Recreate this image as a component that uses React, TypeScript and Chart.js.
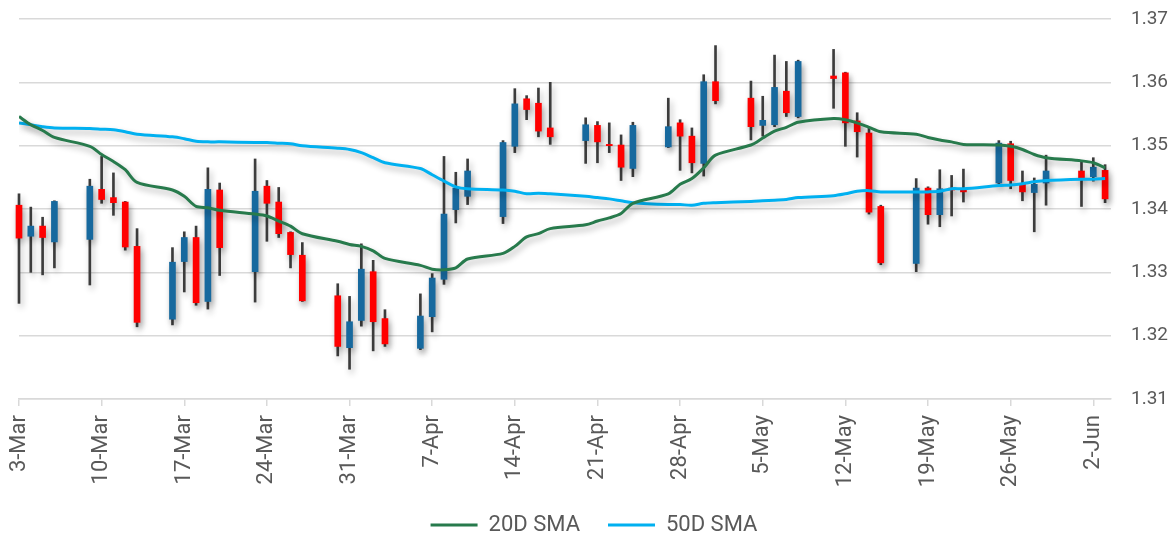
import React, { useEffect, useRef } from "react";
import { Chart, registerables } from "chart.js";

Chart.register(...registerables);

const startDate = "2025-03-03";

const dates = [
  "2025-03-03", "2025-03-04", "2025-03-05", "2025-03-06",
  "2025-03-09", "2025-03-10", "2025-03-11", "2025-03-12", "2025-03-13",
  "2025-03-16", "2025-03-17", "2025-03-18", "2025-03-19", "2025-03-20",
  "2025-03-23", "2025-03-24", "2025-03-25", "2025-03-26", "2025-03-27",
  "2025-03-30", "2025-03-31", "2025-04-01", "2025-04-02", "2025-04-03",
  "2025-04-06", "2025-04-07", "2025-04-08", "2025-04-09", "2025-04-10",
  "2025-04-13", "2025-04-14", "2025-04-15", "2025-04-16", "2025-04-17",
  "2025-04-20", "2025-04-21", "2025-04-22", "2025-04-23", "2025-04-24",
  "2025-04-27", "2025-04-28", "2025-04-29", "2025-04-30", "2025-05-01",
  "2025-05-04", "2025-05-05", "2025-05-06", "2025-05-07", "2025-05-08",
  "2025-05-11", "2025-05-12", "2025-05-13", "2025-05-14", "2025-05-15",
  "2025-05-18", "2025-05-19", "2025-05-20", "2025-05-21", "2025-05-22",
  "2025-05-25", "2025-05-26", "2025-05-27", "2025-05-28", "2025-05-29",
  "2025-06-01", "2025-06-02", "2025-06-03",
];

const openPrices = [
  1.3406, 1.3357, 1.3373, 1.3348,
  1.3352, 1.3431, 1.3418, 1.3411, 1.3341,
  1.3226, 1.3317, 1.3355, 1.3254, 1.3430,
  1.3301, 1.3436, 1.3411, 1.3363, 1.3327,
  1.3263, 1.3181, 1.3224, 1.3301, 1.3227,
  1.3180, 1.3230, 1.3289, 1.3399, 1.3420,
  1.3388, 1.3499, 1.3574, 1.3567, 1.3528,
  1.3508, 1.3532, 1.3502, 1.3501, 1.3464,
  1.3498, 1.3536, 1.3515, 1.3472, 1.3601,
  1.3575, 1.3532, 1.3533, 1.3586, 1.3546,
  1.3610, 1.3615, 1.3539, 1.3520, 1.3404,
  1.3314, 1.3433, 1.3391, 1.3433, 1.3430,
  1.3441, 1.3503, 1.3439, 1.3426, 1.3441,
  1.3460, 1.3451, 1.3461,
];

const highPrices = [
  1.3424, 1.3403, 1.3387, 1.3413,
  1.3447, 1.3483, 1.3457, 1.3412, 1.3369,
  1.3339, 1.3364, 1.3373, 1.3465, 1.3441,
  1.3479, 1.3445, 1.3434, 1.3364, 1.3347,
  1.3282, 1.3262, 1.3345, 1.3319, 1.3241,
  1.3266, 1.3298, 1.3483, 1.3458, 1.3479,
  1.3508, 1.3590, 1.3579, 1.3591, 1.3600,
  1.3544, 1.3538, 1.3536, 1.3517, 1.3537,
  1.3575, 1.3541, 1.3528, 1.3612, 1.3658,
  1.3602, 1.3578, 1.3643, 1.3633, 1.3635,
  1.3652, 1.3616, 1.3552, 1.3528, 1.3406,
  1.3448, 1.3435, 1.3462, 1.3453, 1.3463,
  1.3508, 1.3507, 1.3460, 1.3449, 1.3485,
  1.3474, 1.3481, 1.3470,
];

const lowPrices = [
  1.3251, 1.3300, 1.3296, 1.3307,
  1.3280, 1.3409, 1.3390, 1.3335, 1.3214,
  1.3217, 1.3269, 1.3248, 1.3242, 1.3295,
  1.3253, 1.3349, 1.3355, 1.3307, 1.3254,
  1.3168, 1.3147, 1.3215, 1.3176, 1.3183,
  1.3178, 1.3206, 1.3281, 1.3378, 1.3407,
  1.3377, 1.3489, 1.3541, 1.3514, 1.3502,
  1.3472, 1.3473, 1.3489, 1.3445, 1.3451,
  1.3497, 1.3461, 1.3457, 1.3452, 1.3566,
  1.3509, 1.3515, 1.3530, 1.3546, 1.3544,
  1.3559, 1.3499, 1.3482, 1.3392, 1.3312,
  1.3301, 1.3376, 1.3372, 1.3389, 1.3411,
  1.3440, 1.3432, 1.3413, 1.3364, 1.3406,
  1.3404, 1.3444, 1.3410,
];

const closePrices = [
  1.3354, 1.3373, 1.3355, 1.3412,
  1.3436, 1.3415, 1.3410, 1.3340, 1.3221,
  1.3316, 1.3355, 1.3252, 1.3431, 1.3339,
  1.3428, 1.3409, 1.3361, 1.3328, 1.3255,
  1.3183, 1.3222, 1.3305, 1.3222, 1.3187,
  1.3231, 1.3291, 1.3392, 1.3433, 1.3460,
  1.3505, 1.3566, 1.3557, 1.3523, 1.3514,
  1.3533, 1.3506, 1.3500, 1.3466, 1.3532,
  1.3530, 1.3515, 1.3473, 1.3601, 1.3571,
  1.3530, 1.3540, 1.3592, 1.3552, 1.3633,
  1.3606, 1.3536, 1.3522, 1.3395, 1.3315,
  1.3433, 1.3391, 1.3432, 1.3430, 1.3427,
  1.3504, 1.3445, 1.3427, 1.3439, 1.3460,
  1.3449, 1.3466, 1.3416,
];

const sma20 = [
  1.3546, 1.3533, 1.3524, 1.3513,
  1.3499, 1.3486, 1.3475, 1.3462, 1.3442,
  1.3430, 1.3420, 1.3404, 1.3402, 1.3398,
  1.3392, 1.3389, 1.3381, 1.3373, 1.3361,
  1.3349, 1.3344, 1.3341, 1.3334, 1.3322,
  1.3311, 1.3305, 1.3304, 1.3307, 1.3321,
  1.3330, 1.3341, 1.3356, 1.3361, 1.3369,
  1.3375, 1.3381, 1.3386, 1.3393, 1.3409,
  1.3424, 1.3439, 1.3448, 1.3465, 1.3485,
  1.3501, 1.3512, 1.3523, 1.3529, 1.3537,
  1.3543, 1.3541, 1.3536, 1.3529, 1.3522,
  1.3518, 1.3513, 1.3509, 1.3506, 1.3502,
  1.3501, 1.3499, 1.3494, 1.3486, 1.3481,
  1.3476, 1.3473, 1.3465,
];

const sma50 = [
  1.3536, 1.3533, 1.3530, 1.3528,
  1.3527, 1.3526, 1.3525, 1.3522, 1.3518,
  1.3514, 1.3511, 1.3507, 1.3506, 1.3506,
  1.3505, 1.3505, 1.3504, 1.3503, 1.3500,
  1.3496, 1.3494, 1.3489, 1.3481, 1.3473,
  1.3464, 1.3454, 1.3444, 1.3435, 1.3432,
  1.3430, 1.3428, 1.3424, 1.3425, 1.3424,
  1.3420, 1.3418, 1.3416, 1.3413, 1.3410,
  1.3407, 1.3407, 1.3406, 1.3409, 1.3410,
  1.3412, 1.3413, 1.3414, 1.3415, 1.3418,
  1.3421, 1.3424, 1.3428, 1.3429, 1.3427,
  1.3427, 1.3427, 1.3428, 1.3432, 1.3432,
  1.3437, 1.3438, 1.3440, 1.3443, 1.3445,
  1.3447, 1.3447, 1.3448,
];

const weekLabels = [
  "3-Mar", "10-Mar", "17-Mar", "24-Mar", "31-Mar", "7-Apr", "14-Apr",
  "21-Apr", "28-Apr", "5-May", "12-May", "19-May", "26-May", "2-Jun",
];

const seriesNames = ["20D SMA", "50D SMA"];

function toUTC(d: string) {
  const [y, m, dd] = d.split("-").map(Number);
  return Date.UTC(y, m - 1, dd);
}

function dayOffset(d: string) {
  return Math.round((toUTC(d) - toUTC(startDate)) / 86400000);
}

const shadowPlugin = {
  id: "softShadow",
  beforeDatasetsDraw(chart: any) {
    const c = chart.ctx;
    c.save();
    c.shadowColor = "rgba(0,0,0,0.3)";
    c.shadowBlur = 6;
    c.shadowOffsetX = 2;
    c.shadowOffsetY = 4;
  },
  afterDatasetsDraw(chart: any) {
    chart.ctx.restore();
  },
};

export default function App() {
  const ref = useRef<HTMLCanvasElement | null>(null);

  useEffect(() => {
    if (!ref.current) return;
    const xs = dates.map(dayOffset);
    const UP = "#17699e";
    const DOWN = "#ff0000";
    const bodyColors = openPrices.map((o, i) => (closePrices[i] >= o ? UP : DOWN));
    const font = "Roboto, 'Open Sans', sans-serif";
    const grey = "#595959";

    const chart = new Chart(ref.current, {
      type: "bar",
      data: {
        datasets: [
          {
            type: "line",
            label: seriesNames[0],
            data: xs.map((x, i) => ({ x, y: sma20[i] })),
            borderColor: "#277a4c",
            backgroundColor: "#277a4c",
            borderWidth: 3,
            pointRadius: 0,
            tension: 0.3,
            order: 0,
          } as any,
          {
            type: "line",
            label: seriesNames[1],
            data: xs.map((x, i) => ({ x, y: sma50[i] })),
            borderColor: "#00b0f0",
            backgroundColor: "#00b0f0",
            borderWidth: 3,
            pointRadius: 0,
            tension: 0.3,
            order: 1,
          } as any,
          {
            type: "bar",
            label: "body",
            data: xs.map((x, i) => ({ x, y: [openPrices[i], closePrices[i]] })),
            backgroundColor: bodyColors,
            borderWidth: 0,
            barThickness: 6,
            grouped: false,
            clip: false,
            order: 2,
          } as any,
          {
            type: "bar",
            label: "wick",
            data: xs.map((x, i) => ({ x, y: [lowPrices[i], highPrices[i]] })),
            backgroundColor: "#3c3c3c",
            borderWidth: 0,
            barThickness: 2,
            grouped: false,
            clip: false,
            order: 3,
          } as any,
        ],
      },
      options: {
        responsive: false,
        animation: false,
        layout: { padding: { left: 19, right: 0, top: 19, bottom: -9 } },
        plugins: {
          tooltip: { enabled: false },
          legend: {
            position: "bottom",
            labels: {
              filter: (item: any) => item.datasetIndex < 2,
              usePointStyle: true,
              pointStyle: "line",
              pointStyleWidth: 47,
              padding: 28,
              color: grey,
              font: { family: font, size: 22 },
            },
          },
        },
        scales: {
          x: {
            type: "linear",
            min: 0,
            max: 92.5,
            bounds: "data",
            offset: false,
            grid: {
              display: true,
              drawOnChartArea: false,
              drawTicks: true,
              tickLength: 7,
              color: "#d9d9d9",
              lineWidth: 1.5,
              offset: false,
            },
            border: { display: true, color: "#d9d9d9", width: 1.5 },
            ticks: {
              stepSize: 7,
              autoSkip: false,
              includeBounds: false,
              maxRotation: 90,
              minRotation: 90,
              padding: 9,
              color: grey,
              font: { family: font, size: 22 },
              callback: (v: any) => weekLabels[Math.round(Number(v) / 7)] ?? "",
            },
            afterFit: (s: any) => {
              s.height = 87;
            },
          },
          y: {
            position: "right",
            min: 1.31,
            max: 1.37,
            grid: {
              color: "#d9d9d9",
              lineWidth: 1.5,
              drawTicks: true,
              tickLength: 18,
              tickColor: "rgba(0,0,0,0)",
            },
            border: { display: false },
            ticks: {
              stepSize: 0.01,
              padding: 2,
              color: grey,
              font: { family: font, size: 19 },
              callback: (v: any) => Number(v).toFixed(2),
            },
            afterFit: (s: any) => {
              s.width = 58;
            },
          },
        },
      } as any,
      plugins: [shadowPlugin],
    });

    return () => chart.destroy();
  }, []);

  return (
    <div style={{ position: "fixed", left: 0, top: 0, width: 1169, height: 537, background: "#fff" }}>
      <canvas ref={ref} width={1169} height={537} style={{ width: 1169, height: 537, display: "block" }} />
    </div>
  );
}
